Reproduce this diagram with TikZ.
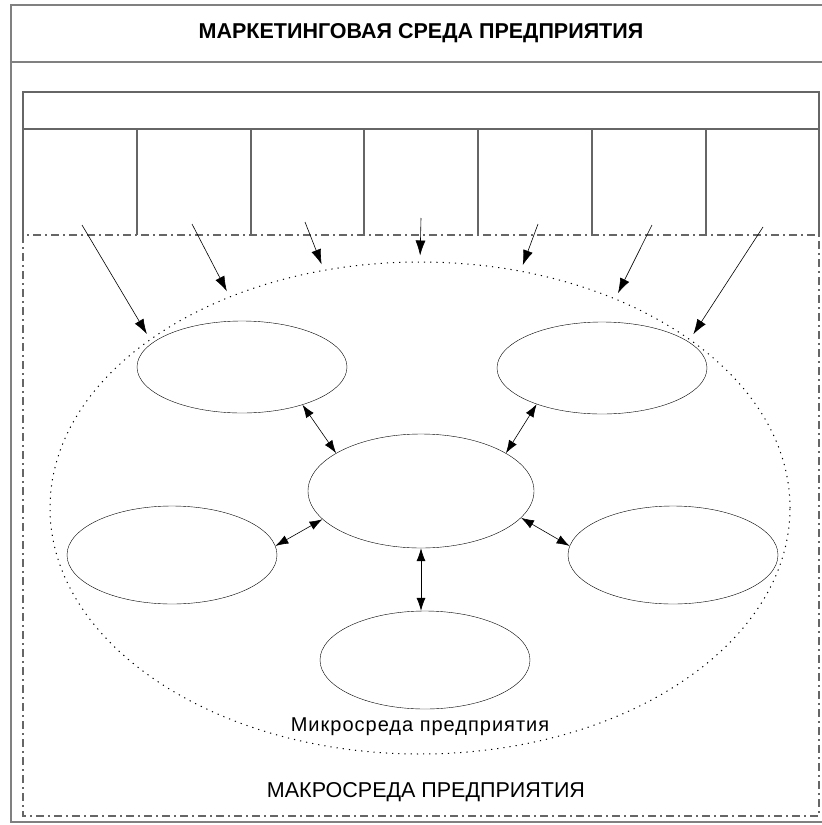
\documentclass[tikz,border=0pt]{standalone}
\usepackage{fontspec}
\setmainfont{Liberation Sans}
\usetikzlibrary{positioning, shapes.geometric, arrows.meta}
\tikzstyle{Arrow} = [
%one-way arrow from a column to the microenvironment:
semithick,
-{Latex[length=15pt, width=10pt]},
shorten >= 6pt
]
\tikzstyle{BiArrow} = [
%two-way arrow between the ellipses:
semithick,
{Latex[length=13pt, width=9pt]}-{Latex[length=13pt, width=9pt]}
]

\begin{document}
\begin{tikzpicture}[x=1pt, y=-1pt,
				frame/.style = {draw=gray, line width=1.6pt},
				table/.style = {draw=gray!80!black, line width=1.4pt},
				macro/.style = {draw=gray!80!black, line width=1.5pt, dash pattern=on 8pt off 4pt on 2pt off 4pt},
				micro/.style = {ellipse, draw, line width=1pt, dash pattern=on 1.2pt off 5pt, inner sep=0pt},
				factor/.style = {ellipse, draw, thin, inner sep=0pt, minimum width=210pt, minimum height=92pt},
				company/.style = {ellipse, draw, thin, inner sep=0pt, minimum width=226pt, minimum height=114pt},
			]
			\useasboundingbox (0,0) rectangle (822,825);

			% outer frame and title
			\draw[frame](822,5)--(11,5)--(11,822)--(822,822);
			\draw[frame](11,62)--(822,62);
			\node(title) at (421,33){\fontsize{21.5}{24}\selectfont\bfseries МАРКЕТИНГОВАЯ СРЕДА ПРЕДПРИЯТИЯ};

			% table of macro factors
			\draw[table](23,235)--(23,92)--(819,92)--(819,235);
			\draw[table](23,129)--(819,129);
			\draw[table](137,129)--(137,235);
			\draw[table](251,129)--(251,235);
			\draw[table](364,129)--(364,235);
			\draw[table](478,129)--(478,235);
			\draw[table](592,129)--(592,235);
			\draw[table](706,129)--(706,235);

			% macroenvironment
			\draw[macro](23,235) rectangle (819,816);
			\node(macrotext) at (426,792){\fontsize{21.5}{24}\selectfont МАКРОСРЕДА ПРЕДПРИЯТИЯ};

			% microenvironment
			\node[micro, minimum width=740pt, minimum height=492pt](micro) at (420,508){};
			\node(microtext) at (420,727){\fontsize{20}{24}\selectfont\addfontfeature{LetterSpace=5} Микросреда предприятия};

			\node[company](C) at (421,491){};
			\node[factor](TL) at (242,367){};
			\node[factor](TR) at (602,368){};
			\node[factor, minimum height=98pt](L) at (172,555){};
			\node[factor, minimum height=98pt](R) at (673,555){};
			\node[factor, minimum height=98pt](B) at (425,660){};

			\draw[BiArrow](C.156)--(TL.-32);
			\draw[BiArrow](C.24)--(TR.-151);
			\draw[BiArrow](C.196)--(L.5);
			\draw[BiArrow](C.-15)--(R.175);
			\draw[BiArrow](C.south)--(C.south |- B.north);

			% arrows from the columns
			\coordinate(S1) at (82,225);
			\coordinate(S2) at (192,224);
			\coordinate(S3) at (305,222);
			\coordinate(S4) at (421,218);
			\coordinate(S5) at (538,224);
			\coordinate(S6) at (652,225);
			\coordinate(S7) at (763,227);

			\draw[Arrow](S1)--(micro.148);
			\draw[Arrow](S2)--(micro.132.5);
			\draw[Arrow](S3)--(micro.112.5);
			\draw[Arrow](S4)--(micro.90);
			\draw[Arrow](S5)--(micro.67.5);
			\draw[Arrow](S6)--(micro.47.5);
			\draw[Arrow](S7)--(micro.32);

		\end{tikzpicture}
\end{document}
